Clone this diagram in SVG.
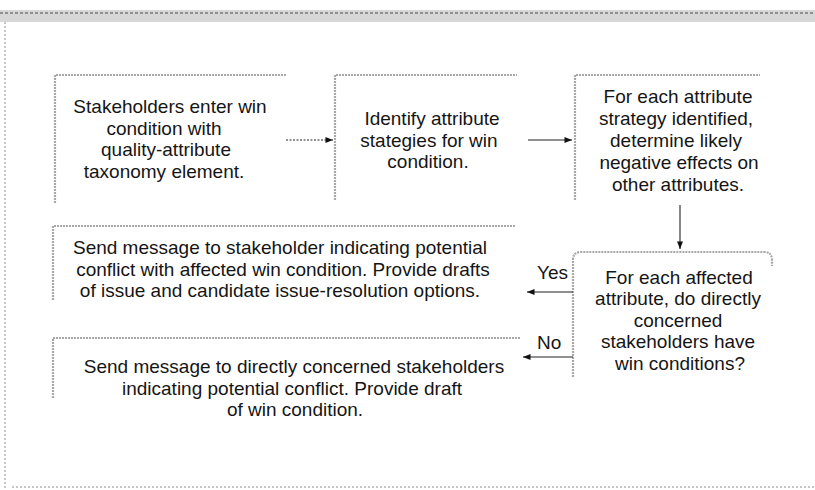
<svg xmlns="http://www.w3.org/2000/svg" width="815" height="490" viewBox="0 0 815 490">
<style>
  .t { font-family: "Liberation Sans", Arial, sans-serif; font-size: 19px; fill: #151515; text-anchor: middle; }
  .l { font-family: "Liberation Sans", Arial, sans-serif; font-size: 19px; fill: #151515; }
  .edge { fill: none; stroke: #a8a8a8; stroke-width: 2.2; stroke-dasharray: 2 1; }
  .frame { fill: none; stroke: #b5b5b5; stroke-width: 1.5; stroke-dasharray: 2 2; }
  .conn { fill: none; stroke: #222; stroke-width: 1.1; }
</style>
<defs>
  <marker id="ah" viewBox="0 0 10 8" refX="10" refY="4" markerWidth="8" markerHeight="6" markerUnits="userSpaceOnUse" orient="auto">
    <path d="M0,0 L10,4 L0,8 z" fill="#111"/>
  </marker>
</defs>
<rect width="815" height="490" fill="#ffffff"/>
<g id="frame">
  <rect x="0" y="10" width="815" height="12" fill="#bdbdbd" opacity="0.6"/>
  <line x1="0" y1="13" x2="815" y2="13" stroke="#8f8f8f" stroke-width="2" stroke-dasharray="3 2"/>
  <line class="frame" x1="5" y1="22" x2="5" y2="488"/>
  <line class="frame" x1="12" y1="487" x2="815" y2="487" stroke="#8a8a8a"/>
</g>
<g id="node1">
  <path class="edge" d="M55,203 L55,75 L287,75"/>
  <text class="t" x="170" y="113">Stakeholders enter win</text>
  <text class="t" x="164" y="134.5">condition with</text>
  <text class="t" x="166" y="156">quality-attribute</text>
  <text class="t" x="164" y="177.5">taxonomy element.</text>
</g>
<g id="node2">
  <path class="edge" d="M335,200 L335,75 L517,75"/>
  <text class="t" x="432" y="125">Identify attribute</text>
  <text class="t" x="429" y="146.5">stategies for win</text>
  <text class="t" x="428" y="168">condition.</text>
</g>
<g id="node3">
  <path class="edge" d="M575,200 L575,75 L760,75" stroke="#c8c8c8"/>
  <text class="t" x="678" y="103">For each attribute</text>
  <text class="t" x="676" y="125">strategy identified,</text>
  <text class="t" x="676" y="147">determine likely</text>
  <text class="t" x="679" y="169">negative effects on</text>
  <text class="t" x="678" y="191">other attributes.</text>
</g>
<g id="node4">
  <path class="edge" d="M53,300 L53,226 L516,226"/>
  <text class="t" x="280" y="254">Send message to stakeholder indicating potential</text>
  <text class="t" x="283" y="275.5">conflict with affected win condition. Provide drafts</text>
  <text class="t" x="280" y="297">of issue and candidate issue-resolution options.</text>
</g>
<g id="node5">
  <path class="edge" d="M53,398 L53,338 L520,338"/>
  <text class="t" x="294" y="373">Send message to directly concerned stakeholders</text>
  <text class="t" x="292" y="394.5">indicating potential conflict. Provide draft</text>
  <text class="t" x="295" y="416">of win condition.</text>
</g>
<g id="node6">
  <path class="edge" d="M573,377 L573,260 Q573,252 581,252 L764,252 Q772,252 772,260 L772,266"/>
  <text class="t" x="679" y="283.5">For each affected</text>
  <text class="t" x="678" y="305">attribute, do directly</text>
  <text class="t" x="678" y="326.5">concerned</text>
  <text class="t" x="678" y="348">stakeholders have</text>
  <text class="t" x="680" y="369.5">win conditions?</text>
</g>
<g id="connectors">
  <line class="conn" x1="286" y1="140" x2="333" y2="140" marker-end="url(#ah)" stroke="#555" stroke-dasharray="2 1.5"/>
  <line class="conn" x1="528" y1="140" x2="572" y2="140" marker-end="url(#ah)"/>
  <line class="conn" x1="680" y1="205" x2="680" y2="249" marker-end="url(#ah)"/>
  <line class="conn" x1="573" y1="292" x2="527" y2="292" marker-end="url(#ah)"/>
  <line class="conn" x1="573" y1="357" x2="523" y2="357" marker-end="url(#ah)"/>
  <text class="l" x="537" y="279">Yes</text>
  <text class="l" x="537" y="349">No</text>
</g>
</svg>
